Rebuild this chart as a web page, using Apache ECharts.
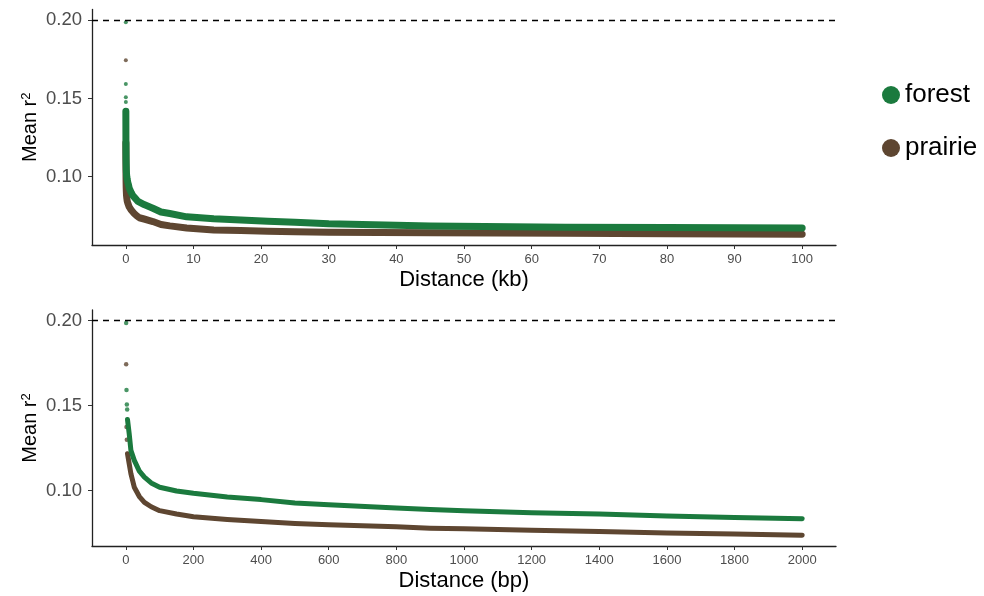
<!DOCTYPE html>
<html>
<head>
<meta charset="utf-8">
<script src="https://cdn.jsdelivr.net/npm/echarts@6/dist/echarts.min.js"></script>
<style>
html,body{margin:0;padding:0;background:#fff;}
#chart{width:984px;height:596px;}
</style>
</head>
<body>
<div id="chart"></div>
<script>
// ---- data (distance in bp, mean r^2) ----
const distBp = [5, 10, 15, 25, 40, 55, 75, 100, 150, 200, 300, 400, 500, 600, 800, 900, 1000, 1200, 1400, 1600, 1800, 2000,
  2700, 4000, 5200, 6500, 9000, 13000, 17000, 21000, 25000, 30000, 45000, 65000, 80000, 100000];
const forestR2 = [0.1418, 0.1335, 0.1237, 0.1178, 0.1115, 0.1079, 0.1045, 0.1020, 0.0998, 0.0984, 0.0962, 0.0947, 0.0927, 0.0917, 0.0898, 0.0889, 0.0882, 0.0870, 0.0862, 0.0850, 0.0842, 0.0834,
  0.0822, 0.0799, 0.0775, 0.0765, 0.0744, 0.0731, 0.0724, 0.0716, 0.0710, 0.0700, 0.0686, 0.0677, 0.0675, 0.0673];
const prairieR2 = [0.1217, 0.1158, 0.1100, 0.1020, 0.0965, 0.0931, 0.0905, 0.0882, 0.0862, 0.0846, 0.0830, 0.0818, 0.0807, 0.0799, 0.0787, 0.0779, 0.0775, 0.0767, 0.0759, 0.0751, 0.0744, 0.0738,
  0.0730, 0.0714, 0.0695, 0.0686, 0.0673, 0.0660, 0.0656, 0.0652, 0.0648, 0.0646, 0.0643, 0.0639, 0.0636, 0.0633];
// isolated first points
const forestEarlyBp = [1, 2, 3, 4];
const forestEarlyR2 = [0.1986, 0.1592, 0.1507, 0.1478];
const prairieEarlyBp = [1, 2, 3];
const prairieEarlyR2 = [0.1744, 0.1375, 0.1300];
// ticks
const xTicksKb = [0, 10, 20, 30, 40, 50, 60, 70, 80, 90, 100];
const xTicksBp = [0, 200, 400, 600, 800, 1000, 1200, 1400, 1600, 1800, 2000];
const yTicks = [0.10, 0.15, 0.20];
const groupNames = ['forest', 'prairie'];
const refLine = 0.2;

const COLORS = {forest: '#1b7a3e', prairie: '#5e4631'};
const FONT = '"Liberation Sans", Arial, Helvetica, sans-serif';

function pairs(xs, ys, scale, maxX) {
  const out = [];
  for (let i = 0; i < xs.length; i++) {
    if (maxX === undefined || xs[i] <= maxX) out.push([xs[i] / scale, ys[i]]);
  }
  return out;
}

function xAxisCfg(gridIndex, min, max, ticks, name) {
  return {
    type: 'value', gridIndex, min, max,
    name, nameLocation: 'middle', nameGap: 24,
    nameTextStyle: {fontSize: 22, color: '#000', fontFamily: FONT},
    axisLine: {show: true, onZero: false, lineStyle: {color: '#222', width: 1.3}},
    axisTick: {show: true, length: 4, customValues: ticks, lineStyle: {color: '#333', width: 1}},
    axisLabel: {customValues: ticks, color: '#4d4d4d', fontSize: 13, margin: 8, fontFamily: FONT,
      formatter: v => String(v)},
    splitLine: {show: false}
  };
}
function yAxisCfg(gridIndex, min, max) {
  return {
    type: 'value', gridIndex, min, max,
    name: '{a|Mean r}{sup|2}', nameLocation: 'middle', nameGap: 52, nameMoveOverlap: false,
    nameTextStyle: {fontSize: 20, color: '#000', fontFamily: FONT,
      rich: {a: {fontSize: 20, color: '#000', fontFamily: FONT},
             sup: {fontSize: 13, color: '#000', fontFamily: FONT, verticalAlign: 'top'}}},
    axisLine: {show: true, onZero: false, lineStyle: {color: '#222', width: 1.3}},
    axisTick: {show: true, length: 4, customValues: yTicks, lineStyle: {color: '#333', width: 1}},
    axisLabel: {customValues: yTicks, color: '#4d4d4d', fontSize: 18.5, margin: 10, fontFamily: FONT,
      formatter: v => v.toFixed(2)},
    splitLine: {show: false}
  };
}

function panelSeries(idx, scale, maxX, lw, ss) {
  const mk = {
    silent: true, symbol: ['none', 'none'], label: {show: false},
    lineStyle: {color: '#000', type: [6, 5], width: 1.3},
    data: [{yAxis: refLine}], animation: false
  };
  const lineBase = {type: 'line', xAxisIndex: idx, yAxisIndex: idx, showSymbol: false, symbol: 'none', smooth: false};
  return [
    Object.assign({}, lineBase, {name: 'prairie', color: COLORS.prairie,
      lineStyle: {width: lw, color: COLORS.prairie, cap: 'round', join: 'round'},
      data: pairs(distBp, prairieR2, scale, maxX)}),
    {name: 'prairie', type: 'scatter', xAxisIndex: idx, yAxisIndex: idx, symbolSize: ss,
     itemStyle: {color: COLORS.prairie}, data: pairs(prairieEarlyBp, prairieEarlyR2, scale)},
    Object.assign({}, lineBase, {name: 'forest', color: COLORS.forest,
      lineStyle: {width: lw, color: COLORS.forest, cap: 'round', join: 'round'},
      data: pairs(distBp, forestR2, scale, maxX), markLine: mk}),
    {name: 'forest', type: 'scatter', xAxisIndex: idx, yAxisIndex: idx, symbolSize: ss,
     itemStyle: {color: COLORS.forest}, data: pairs(forestEarlyBp, forestEarlyR2, scale)}
  ];
}

const chart = echarts.init(document.getElementById('chart'), null, {renderer: 'canvas'});
chart.setOption({
  animation: false,
  backgroundColor: '#fff',
  textStyle: {fontFamily: FONT},
  grid: [
    {left: 92, top: 9.5, width: 744, height: 235.5},
    {left: 92, top: 310, width: 744, height: 236}
  ],
  legend: {
    orient: 'vertical', left: 877, top: 77, icon: 'circle',
    itemWidth: 18, itemHeight: 18, itemGap: 27,
    textStyle: {fontSize: 26, color: '#000', fontFamily: FONT},
    data: groupNames, selectedMode: false
  },
  xAxis: [
    xAxisCfg(0, -5, 105, xTicksKb, 'Distance (kb)'),
    xAxisCfg(1, -100, 2100, xTicksBp, 'Distance (bp)')
  ],
  yAxis: [
    yAxisCfg(0, 0.0564, 0.2068),
    yAxisCfg(1, 0.0674, 0.2063)
  ],
  series: [].concat(panelSeries(0, 1000, undefined, 7, 4), panelSeries(1, 1, 2000, 5, 4.5))
});
</script>
</body>
</html>
